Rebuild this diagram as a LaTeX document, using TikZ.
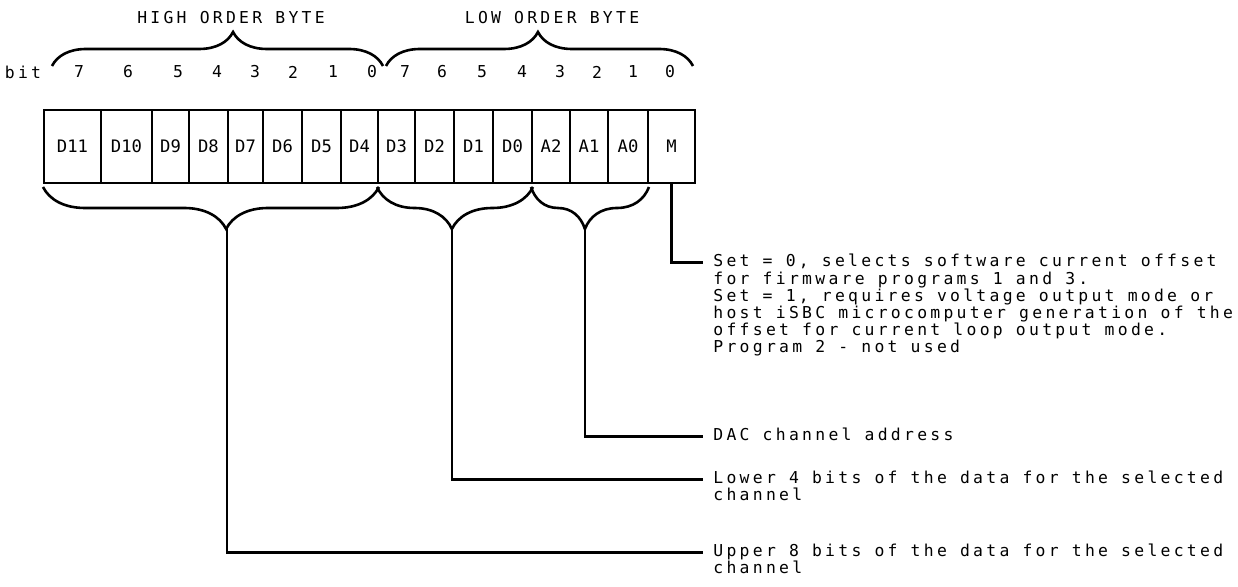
\documentclass[tikz,border=0pt]{standalone}
\usepackage{fontspec}
\setmainfont{DejaVu Sans Mono}[LetterSpace=20]
\newfontfamily\cellfont{DejaVu Sans Mono}
\usetikzlibrary{decorations.pathreplacing}

\begin{document}
\begin{tikzpicture}[x=.5pt,y=-.5pt,font=\fontsize{8.2}{8.6}\selectfont,
  cell/.style={draw,line width=1pt,inner sep=0pt,minimum height=36.5pt,font=\cellfont\fontsize{8.6}{8.6}\selectfont},
  brc/.style={decorate,line width=1.3pt,decoration={brace,amplitude=#1}},
  lead/.style={line width=1.3pt},
  note/.style={align=left,anchor=base west,inner sep=0pt}]
\useasboundingbox (0,0) rectangle (1238,587);
% byte headings and bit numbers
\node (hibyte) at (231,18){HIGH ORDER BYTE};
\node (lobyte) at (552,18){LOW ORDER BYTE};
\draw[brc=17pt,decoration={aspect=.547}] (52,66) -- (383,66);
\draw[brc=17pt,decoration={aspect=.495}] (386,66) -- (693,66);
\node (bit) at (23,72){bit};
\foreach \x/\v in {79/7,128/6,178/5,217/4,255/3,293/2,333/1,372/0}{\node (h\v) at (\x,72){\v};}
\foreach \x/\v in {405/7,442/6,482/5,522/4,560/3,597/2,633/1,670/0}{\node (l\v) at (\x,72){\v};}
% the word
\foreach \a/\b/\t in {44/101/D11,101/152/D10,152/189/D9,189/228/D8,228/263/D7,263/302/D6,302/341/D5,341/378/D4,
  378/415/D3,415/454/D2,454/493/D1,493/532/D0,532/570/A2,570/608/A1,608/648/A0,648/695/M}{
  \node[cell,minimum width={(\b-\a)*.5pt}] (\t) at ({(\a+\b)/2},146.5){\t};}
% field braces
\draw[brc=21pt,decoration={aspect=.455}] ([yshift=-1.5pt]D4.south east) -- ([yshift=-1.5pt]D11.south west);
\draw[brc=21pt,decoration={aspect=.52}] ([yshift=-1.5pt]D0.south east) -- ([yshift=-1.5pt]D3.south west);
\draw[brc=21pt,decoration={aspect=.543}] ([yshift=-1.5pt]A0.south east) -- ([yshift=-1.5pt]A2.south west);
\coordinate (upc) at (227,228);
\coordinate (loc) at (452,228);
\coordinate (adc) at (585,228);
% field descriptions (base = last line)
\node[note] (mnote) at (713,353){Set = 0, selects software current offset\\for firmware programs 1 and 3.\\Set = 1, requires voltage output mode or\\host iSBC microcomputer generation of the\\offset for current loop output mode.\\Program 2 - not used};
\node[note] (dac) at (713,441){DAC channel address};
\node[note] (lower) at (713,501){Lower 4 bits of the data for the selected\\channel};
\node[note] (upper) at (713,574){Upper 8 bits of the data for the selected\\channel};
\draw[lead] (M.south) |- ([xshift=-5pt,yshift=45.2pt]mnote.base west);
\draw[lead] (adc) |- ([xshift=-5pt,yshift=2.2pt]dac.base west);
\draw[lead] (loc) |- ([xshift=-5pt,yshift=10.8pt]lower.base west);
\draw[lead] (upc) |- ([xshift=-5pt,yshift=10.8pt]upper.base west);
\end{tikzpicture}
\end{document}
